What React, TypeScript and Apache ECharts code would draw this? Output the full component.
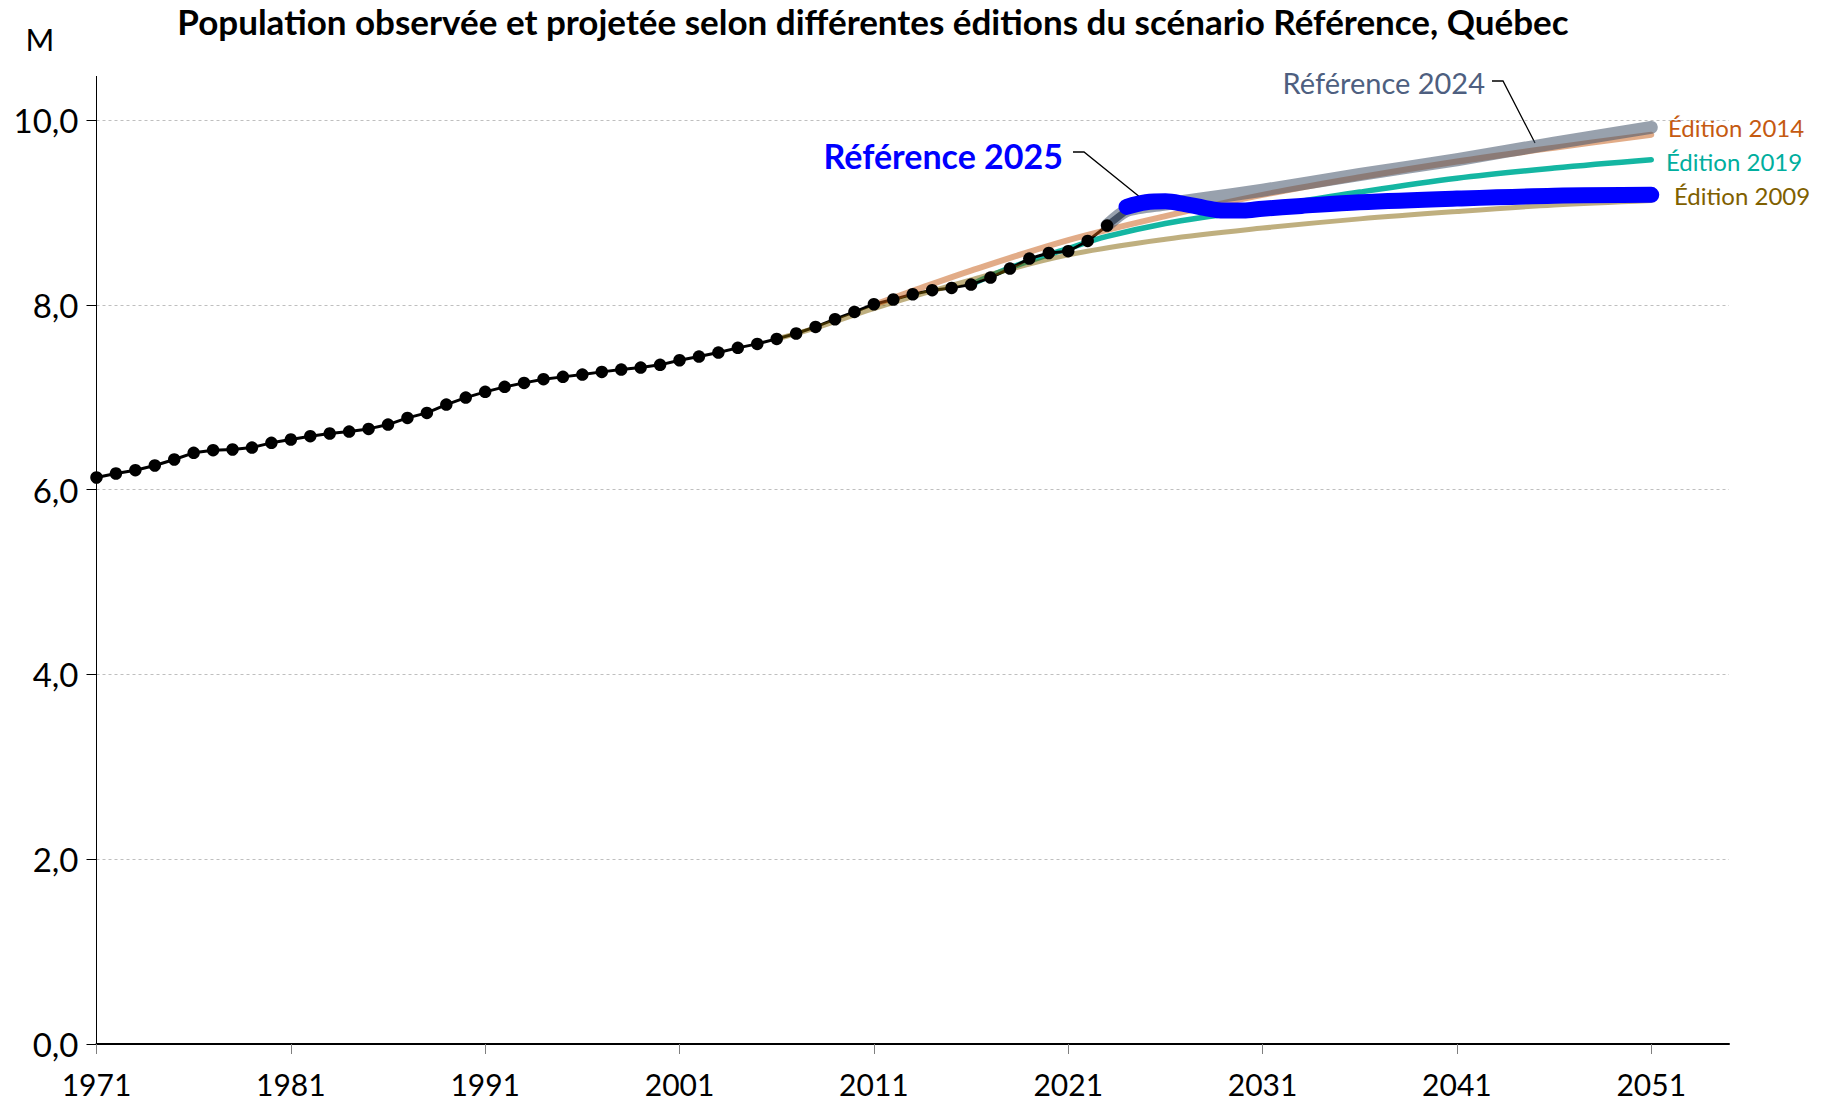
import React, { useEffect, useRef } from "react";
import * as echarts from "echarts";

// ---------- Data ----------
const firstYear = 1971;
const lastYear = 2055;
const categories: string[] = [];
for (let y = firstYear; y <= lastYear; y++) categories.push(String(y));

const yTicks = [0, 2, 4, 6, 8, 10];

const obsYears = [
  1971, 1972, 1973, 1974, 1975, 1976, 1977, 1978, 1979, 1980,
  1981, 1982, 1983, 1984, 1985, 1986, 1987, 1988, 1989, 1990,
  1991, 1992, 1993, 1994, 1995, 1996, 1997, 1998, 1999, 2000,
  2001, 2002, 2003, 2004, 2005, 2006, 2007, 2008, 2009, 2010,
  2011, 2012, 2013, 2014, 2015, 2016, 2017, 2018, 2019, 2020,
  2021, 2022, 2023,
];
const obsValues = [
  6.131, 6.174, 6.21, 6.261, 6.326, 6.398, 6.427, 6.434, 6.455, 6.506,
  6.542, 6.578, 6.607, 6.628, 6.657, 6.704, 6.776, 6.83, 6.92, 6.996,
  7.058, 7.112, 7.155, 7.195, 7.22, 7.245, 7.274, 7.299, 7.321, 7.35,
  7.4, 7.44, 7.483, 7.534, 7.577, 7.631, 7.689, 7.761, 7.844, 7.923,
  8.006, 8.057, 8.114, 8.158, 8.183, 8.219, 8.295, 8.392, 8.5, 8.561,
  8.58, 8.691, 8.857,
];

const ed2009Years = [2006, 2008, 2011, 2016, 2021, 2026, 2031, 2036, 2041, 2046, 2051];
const ed2009Values = [7.63, 7.75, 7.96, 8.27, 8.54, 8.71, 8.83, 8.93, 9.01, 9.08, 9.13];

const ed2014Years = [2011, 2013, 2016, 2021, 2026, 2031, 2036, 2041, 2046, 2051];
const ed2014Values = [8.0, 8.15, 8.37, 8.7, 8.96, 9.19, 9.38, 9.55, 9.7, 9.84];

const ed2019Years = [2016, 2018, 2021, 2023, 2026, 2029, 2031, 2036, 2041, 2046, 2051];
const ed2019Values = [8.22, 8.4, 8.61, 8.74, 8.88, 8.98, 9.05, 9.22, 9.37, 9.48, 9.57];

const ref2024Years = [2023, 2024, 2026, 2028, 2031, 2036, 2041, 2046, 2051];
const ref2024Values = [8.86, 9.02, 9.09, 9.15, 9.24, 9.41, 9.57, 9.75, 9.92];

const estYears = [2023, 2024];
const estValues = [8.857, 9.02];

const ref2025Years = [2024, 2025, 2026, 2027, 2028, 2029, 2030, 2031, 2033, 2036, 2041, 2046, 2051];
const ref2025Values = [9.06, 9.11, 9.12, 9.09, 9.05, 9.02, 9.02, 9.04, 9.07, 9.11, 9.15, 9.18, 9.19];

// ---------- Texts ----------
const TITLE = "Population observée et projetée selon différentes éditions du scénario Référence, Québec";
const UNIT = "M";
const LBL_REF2024 = "Référence 2024";
const LBL_REF2025 = "Référence 2025";
const LBL_ED2014 = "Édition 2014";
const LBL_ED2019 = "Édition 2019";
const LBL_ED2009 = "Édition 2009";

const FONT = "Lato, 'Open Sans', 'Liberation Sans', sans-serif";

const pairs = (ys: number[], vs: number[]) => ys.map((y, i) => [String(y), vs[i]]);

export default function App() {
  const ref = useRef<HTMLDivElement>(null);

  useEffect(() => {
    document.body.style.margin = "0";
    const chart = echarts.init(ref.current!, undefined, { renderer: "svg" });

    const GRID_LEFT = 96.5;
    const GRID_TOP = 120;
    const GRID_RIGHT = 94;
    const GRID_BOTTOM = 58;

    const option: any = {
      animation: false,
      backgroundColor: "#ffffff",
      textStyle: { fontFamily: FONT },
      grid: {
        left: GRID_LEFT,
        top: GRID_TOP,
        right: GRID_RIGHT,
        bottom: GRID_BOTTOM,
        containLabel: false,
      },
      xAxis: {
        type: "category",
        data: categories,
        boundaryGap: false,
        axisLine: { show: true, lineStyle: { color: "#000", width: 2 } },
        axisTick: {
          show: true,
          length: 10,
          interval: (i: number) => i % 10 === 0,
          lineStyle: { color: "#7f7f7f", width: 1 },
        },
        axisLabel: {
          interval: (i: number) => i % 10 === 0,
          fontSize: 30,
          fontFamily: FONT,
          color: "#000",
          margin: 25,
        },
        splitLine: { show: false },
      },
      yAxis: {
        type: "value",
        min: 0,
        max: 10,
        interval: 2,
        axisLine: { show: true, lineStyle: { color: "#000", width: 1 } },
        axisTick: { show: true, length: 10, lineStyle: { color: "#000", width: 1 } },
        axisLabel: {
          fontSize: 33,
          fontFamily: FONT,
          color: "#000",
          margin: 18,
          formatter: (v: number) =>
            yTicks.includes(v) ? v.toFixed(1).replace(".", ",") : "",
        },
        splitLine: {
          show: true,
          lineStyle: { color: "#BFBFBF", width: 1, type: [3, 3] },
        },
      },
      series: [
        {
          name: LBL_ED2019,
          type: "line",
          data: pairs(ed2019Years, ed2019Values),
          smooth: 0.35,
          symbol: "none",
          lineStyle: { color: "#00B09A", width: 5.5, opacity: 0.92, cap: "round" },
          silent: true,
        },
        {
          name: "Observée",
          type: "line",
          data: pairs(obsYears, obsValues),
          symbol: "circle",
          symbolSize: 12.5,
          showSymbol: true,
          showAllSymbol: true,
          itemStyle: { color: "#000" },
          lineStyle: { color: "#000", width: 3 },
          silent: true,
        },
        {
          name: LBL_ED2009,
          type: "line",
          data: pairs(ed2009Years, ed2009Values),
          smooth: 0.35,
          symbol: "none",
          lineStyle: { color: "#7F6000", width: 5, opacity: 0.5, cap: "round" },
          silent: true,
        },
        {
          name: LBL_ED2014,
          type: "line",
          data: pairs(ed2014Years, ed2014Values),
          smooth: 0.35,
          symbol: "none",
          lineStyle: { color: "#C55A11", width: 6, opacity: 0.5, cap: "round" },
          silent: true,
        },
        {
          name: LBL_REF2024,
          type: "line",
          data: pairs(ref2024Years, ref2024Values),
          smooth: 0.25,
          symbol: "none",
          lineStyle: { color: "#44546A", width: 13, opacity: 0.55, cap: "round", join: "round" },
          silent: true,
        },
        {
          name: "Estimation",
          type: "line",
          data: pairs(estYears, estValues),
          symbol: "circle",
          symbolSize: 13,
          itemStyle: { color: "#2F3B4F" },
          lineStyle: { color: "#3A475C", width: 7, opacity: 0.9, cap: "round" },
          silent: true,
        },
        {
          name: LBL_REF2025,
          type: "line",
          data: pairs(ref2025Years, ref2025Values),
          smooth: 0.35,
          symbol: "none",
          lineStyle: { color: "#0000FF", width: 16, cap: "round", join: "round" },
          silent: true,
        },
      ],
      graphic: [
        {
          type: "text",
          x: 873,
          y: 21,
          style: {
            text: TITLE,
            fontSize: 35,
            fontWeight: "bold",
            fontFamily: FONT,
            fill: "#000",
            align: "center",
            verticalAlign: "middle",
          },
        },
        {
          type: "text",
          x: 40,
          y: 39,
          style: {
            text: UNIT,
            fontSize: 31,
            fontFamily: FONT,
            fill: "#000",
            align: "center",
            verticalAlign: "middle",
          },
        },
        {
          type: "line",
          shape: { x1: GRID_LEFT, y1: 76, x2: GRID_LEFT, y2: GRID_TOP },
          style: { stroke: "#000", lineWidth: 1 },
        },
        {
          type: "text",
          x: 1485,
          y: 82,
          style: {
            text: LBL_REF2024,
            fontSize: 29,
            fontFamily: FONT,
            fill: "#4E5F80",
            align: "right",
            verticalAlign: "middle",
          },
        },
        {
          type: "polyline",
          shape: { points: [[1492, 81], [1503, 81], [1535, 143]] },
          style: { stroke: "#000", lineWidth: 1.3, fill: null },
        },
        {
          type: "text",
          x: 1063,
          y: 155,
          style: {
            text: LBL_REF2025,
            fontSize: 34,
            fontWeight: "bold",
            fontFamily: FONT,
            fill: "#0000FF",
            align: "right",
            verticalAlign: "middle",
          },
        },
        {
          type: "polyline",
          shape: { points: [[1073, 152], [1084, 152], [1146, 202]] },
          style: { stroke: "#000", lineWidth: 1.3, fill: null },
        },
        {
          type: "text",
          x: 1668,
          y: 127,
          style: {
            text: LBL_ED2014,
            fontSize: 24,
            fontFamily: FONT,
            fill: "#C55A11",
            align: "left",
            verticalAlign: "middle",
          },
        },
        {
          type: "text",
          x: 1666,
          y: 161,
          style: {
            text: LBL_ED2019,
            fontSize: 24,
            fontFamily: FONT,
            fill: "#00AE9E",
            align: "left",
            verticalAlign: "middle",
          },
        },
        {
          type: "text",
          x: 1674,
          y: 195,
          style: {
            text: LBL_ED2009,
            fontSize: 24,
            fontFamily: FONT,
            fill: "#7F6000",
            align: "left",
            verticalAlign: "middle",
          },
        },
      ],
    };

    chart.setOption(option);
    return () => chart.dispose();
  }, []);

  return (
    <div
      ref={ref}
      style={{ position: "absolute", left: 0, top: 0, width: 1823, height: 1102 }}
    />
  );
}
